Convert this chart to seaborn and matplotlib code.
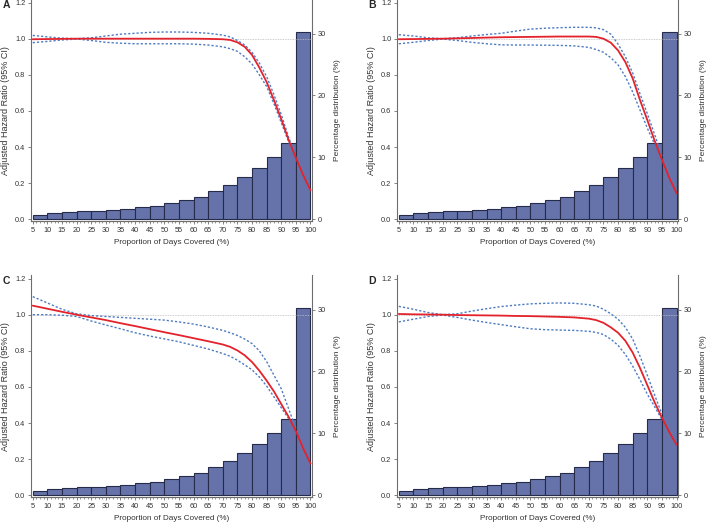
import seaborn as sns
import matplotlib.pyplot as plt
from matplotlib.ticker import MultipleLocator, FormatStrFormatter

# ---------------------------------------------------
# Daten
# ---------------------------------------------------
# Histogramm: Anteil der Patienten je PDC-Klasse (%)
bin_lo = [5, 10, 15, 20, 25, 30, 35, 40, 45, 50, 55, 60, 65, 70, 75, 80, 85, 90, 95]
bin_hi = 100
pct = [0.7, 1.1, 1.15, 1.3, 1.4, 1.55, 1.7, 1.95, 2.2, 2.6, 3.05, 3.6, 4.5, 5.5,
       6.8, 8.3, 10.0, 12.3, 30.2]

# Stützstellen der Kurven
x_pts = [5, 10, 15, 20, 25, 30, 35, 40, 45, 50, 55, 60, 65, 70,
         72.5, 75, 77.5, 80, 82.5, 85, 87.5, 90, 92.5, 95, 97.5, 100]
x_ci = x_pts[:24]  # Konfidenzband endet bei 95

hr_a = [0.997, 0.998, 0.999, 1.0, 1.0, 1.0, 1.0, 1.0, 1.0, 1.0, 1.0, 1.0, 0.999, 0.997,
        0.993, 0.98, 0.955, 0.91, 0.84, 0.76, 0.66, 0.555, 0.44, 0.34, 0.245, 0.16]
up_a = [1.018, 1.01, 1.003, 1.0, 1.005, 1.015, 1.025, 1.03, 1.035, 1.037, 1.037, 1.035,
        1.03, 1.02, 1.01, 0.99, 0.965, 0.925, 0.865, 0.79, 0.69, 0.58, 0.455, 0.345]
lo_a = [0.978, 0.985, 0.993, 0.998, 0.99, 0.98, 0.975, 0.972, 0.972, 0.972, 0.972, 0.97,
        0.965, 0.955, 0.945, 0.93, 0.9, 0.86, 0.8, 0.735, 0.64, 0.535, 0.43, 0.335]

hr_b = [0.997, 0.998, 0.999, 1.0, 1.002, 1.004, 1.006, 1.008, 1.009, 1.01, 1.011, 1.012,
        1.012, 1.012, 1.01, 1.0, 0.978, 0.935, 0.87, 0.78, 0.66, 0.55, 0.435, 0.33, 0.23, 0.145]
up_b = [1.022, 1.015, 1.005, 1.0, 1.005, 1.015, 1.023, 1.03, 1.042, 1.053, 1.058, 1.061,
        1.063, 1.063, 1.06, 1.05, 1.025, 0.97, 0.9, 0.81, 0.695, 0.585, 0.47, 0.35]
lo_b = [0.972, 0.98, 0.99, 0.998, 0.99, 0.98, 0.972, 0.966, 0.965, 0.965, 0.964, 0.963,
        0.96, 0.952, 0.94, 0.925, 0.895, 0.855, 0.79, 0.705, 0.605, 0.505, 0.415, 0.32]

hr_c = [1.05, 1.033, 1.016, 1.0, 0.985, 0.97, 0.953, 0.937, 0.92, 0.903, 0.887, 0.87,
        0.853, 0.835, 0.822, 0.802, 0.775, 0.738, 0.69, 0.635, 0.575, 0.505, 0.435, 0.355, 0.26, 0.175]
up_c = [1.1, 1.065, 1.03, 1.005, 0.995, 0.99, 0.985, 0.98, 0.975, 0.97, 0.96, 0.948,
        0.932, 0.913, 0.9, 0.885, 0.865, 0.84, 0.8, 0.74, 0.665, 0.59, 0.48, 0.37]
lo_c = [1.0, 1.0, 0.997, 0.99, 0.965, 0.943, 0.922, 0.9, 0.882, 0.866, 0.85, 0.83,
        0.81, 0.785, 0.77, 0.748, 0.722, 0.695, 0.655, 0.605, 0.545, 0.485, 0.425, 0.345]

hr_d = [1.004, 1.002, 1.001, 1.0, 0.998, 0.997, 0.996, 0.995, 0.993, 0.992, 0.99, 0.988,
        0.985, 0.978, 0.97, 0.955, 0.93, 0.9, 0.855, 0.79, 0.705, 0.61, 0.515, 0.43, 0.35, 0.28]
up_d = [1.046, 1.03, 1.012, 1.0, 1.005, 1.02, 1.033, 1.045, 1.053, 1.06, 1.063, 1.065,
        1.063, 1.055, 1.048, 1.03, 1.005, 0.975, 0.93, 0.865, 0.77, 0.665, 0.555, 0.45]
lo_d = [0.96, 0.975, 0.99, 0.998, 0.985, 0.97, 0.957, 0.945, 0.933, 0.922, 0.917, 0.915,
        0.913, 0.908, 0.902, 0.89, 0.865, 0.83, 0.78, 0.715, 0.64, 0.56, 0.49, 0.42]

panels = [
    ("A", hr_a, up_a, lo_a),
    ("B", hr_b, up_b, lo_b),
    ("C", hr_c, up_c, lo_c),
    ("D", hr_d, up_d, lo_d),
]

# ---------------------------------------------------
# Stil
# ---------------------------------------------------
sns.set_style("ticks")
plt.rcParams["font.family"] = ["Liberation Sans", "DejaVu Sans"]

BAR = "#6673ab"
EDGE = "#262b4a"
RED = "#e3222b"
BLUE = "#4f7cc0"
SPINE = "#6e6e6e"
TXT = "#333333"

HR_MAX = 1.2
PCT_MAX = 35
SCALE = PCT_MAX / HR_MAX

fig = plt.figure(figsize=(7.09, 5.24), dpi=100)

W = 0.3963
H = 0.4233
positions = [(0.0437, 0.578), (0.560, 0.578), (0.0437, 0.0513), (0.560, 0.0513)]

for (letter, hr, up, lo), (left, bottom) in zip(panels, positions):
    ax = fig.add_axes([left, bottom, W, H])
    ax2 = ax.twinx()

    # Balken (rechte Achse) hinter den Kurven
    edges = bin_lo + [bin_hi]
    sns.histplot(x=[b + 2.5 for b in bin_lo], weights=pct, bins=edges, ax=ax2,
                 color=BAR, edgecolor=EDGE, linewidth=0.8, alpha=1)
    ax.set_zorder(ax2.get_zorder() + 1)
    ax.patch.set_visible(False)

    ax.axhline(1.0, color="#bdbdbd", ls=(0, (1, 1)), lw=0.6, zorder=1)
    sns.lineplot(x=x_ci, y=up, ax=ax, color=BLUE, lw=1.0, linestyle=(0, (1.6, 1.4)))
    sns.lineplot(x=x_ci, y=lo, ax=ax, color=BLUE, lw=1.0, linestyle=(0, (1.6, 1.4)))
    sns.lineplot(x=x_pts, y=hr, ax=ax, color=RED, lw=1.3)

    ylo = -0.01
    yhi = 1.218
    ax.set_xlim(4.4, 100.5)
    ax.set_ylim(ylo, yhi)
    ax2.set_ylim(ylo * SCALE, yhi * SCALE)

    ax.set_xticks(range(5, 101, 5))
    ax.xaxis.set_minor_locator(MultipleLocator(1.25))
    ax.set_yticks([0, 0.2, 0.4, 0.6, 0.8, 1.0, 1.2])
    ax.yaxis.set_major_formatter(FormatStrFormatter("%.1f"))
    ax2.set_yticks([0, 10, 20, 30])

    for a in (ax, ax2):
        a.spines["top"].set_visible(False)
        for s in ("left", "right", "bottom"):
            a.spines[s].set_color(SPINE)
            a.spines[s].set_linewidth(0.8)
        a.tick_params(which="major", length=2.5, width=0.6, color=SPINE,
                      labelsize=5.3, labelcolor=TXT, pad=1.5)
        a.tick_params(which="minor", length=1.3, width=0.5, color=SPINE)
    ax2.spines["left"].set_visible(False)
    ax.spines["right"].set_visible(False)

    ax.set_xlabel("Proportion of Days Covered (%)", fontsize=5.9, color=TXT, labelpad=3.5)
    ax.set_ylabel("Adjusted Hazard Ratio (95% CI)", fontsize=6.5, color=TXT, labelpad=3.5)
    ax2.set_ylabel("Percentage distribution (%)", fontsize=6.0, color=TXT, labelpad=6)

    fig.text(left - 0.035, bottom + H - 0.01, letter, fontsize=7.5,
             fontweight="bold", ha="center", va="center")

fig.savefig("out.png", dpi=100)
